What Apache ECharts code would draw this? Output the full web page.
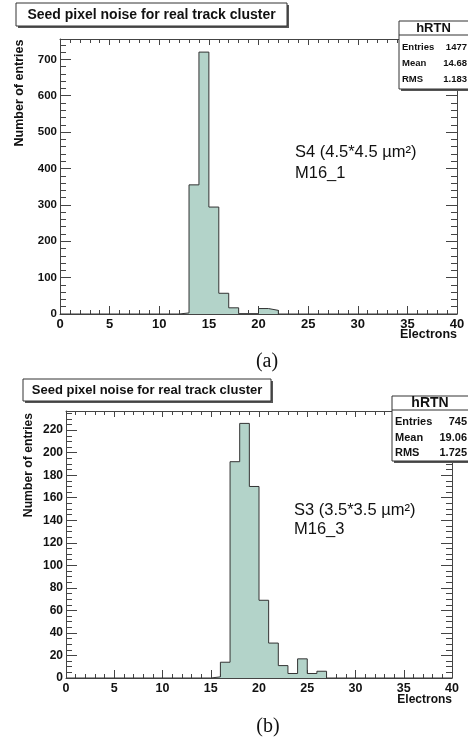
<!DOCTYPE html>
<html><head><meta charset="utf-8">
<script src="https://cdn.jsdelivr.net/npm/echarts@6/dist/echarts.min.js"></script>
<style>html,body{margin:0;padding:0;background:#fff}#c{width:468px;height:740px}</style>
</head><body><div id="c"></div>
<script>
// ---- data ----
const binLowA = [12, 13, 14, 15, 16, 17, 18, 19, 20, 21];
const countsA = [3, 355, 720, 294, 57, 17, 1, 1, 15, 10];
const binLowB = [15, 16, 17, 18, 19, 20, 21, 22, 23, 24, 25, 26];
const countsB = [1, 14, 192, 226, 170, 69, 31, 11, 4, 17, 4, 6];
const statLabels = ['Entries', 'Mean', 'RMS'];
const statValuesA = ['1477', '14.68', '1.183'];
const statValuesB = ['745', '19.06', '1.725'];
const titleText = 'Seed pixel noise for real track cluster';
const xTitle = 'Electrons';
const yTitle = 'Number of entries';
const noteA = ['S4 (4.5*4.5 µm²)', 'M16_1'];
const noteB = ['S3 (3.5*3.5 µm²)', 'M16_3'];

const FONT = '"Liberation Sans", Arial, Helvetica, sans-serif';
const SERIF = '"Liberation Serif", "Times New Roman", serif';
const AX = '#444';
const FILL = '#b3d3c9';

const chart = echarts.init(document.getElementById('c'), null, {renderer: 'canvas'});

function xAxes(grid, labelSize) {
  const base = {gridIndex: grid, type: 'value', min: 0, max: 40, interval: 5,
    splitLine: {show: false},
    axisLine: {show: true, onZero: false, lineStyle: {color: AX, width: 1}},
    minorTick: {show: true, splitNumber: 5, length: 4, lineStyle: {color: AX, width: 1}}};
  return [
    Object.assign({}, base, {position: 'bottom',
      axisTick: {inside: true, length: 8, lineStyle: {color: AX, width: 1}},
      axisLabel: {fontSize: labelSize, fontWeight: 'bold', color: '#111', margin: 4, fontFamily: FONT}}),
    Object.assign({}, base, {position: 'top',
      axisTick: {inside: true, length: 6, lineStyle: {color: AX, width: 1}},
      axisLabel: {show: false}})
  ];
}
function yAxes(grid, max, interval, minorInterval, labelSize) {
  const base = {gridIndex: grid, type: 'value', min: 0, max: max,
    splitLine: {show: false}};
  const main = (pos, lbl) => Object.assign({}, base, {position: pos, interval: interval,
    axisLine: {show: true, onZero: false, lineStyle: {color: AX, width: 1}},
    axisTick: {inside: true, length: 11, lineStyle: {color: AX, width: 1}},
    axisLabel: lbl ? {fontSize: labelSize, fontWeight: 'bold', color: '#111', margin: 3,
      fontFamily: FONT, showMaxLabel: false} : {show: false}});
  const minor = (pos) => Object.assign({}, base, {position: pos, interval: minorInterval,
    axisLine: {show: false, onZero: false},
    axisTick: {inside: true, length: 6, lineStyle: {color: AX, width: 1}},
    axisLabel: {show: false}});
  return [main('left', true), minor('left'), main('right', false), minor('right')];
}

function histSeries(xi, yi, lows, counts) {
  const pts = [];
  for (let b = 0; b < 40; b++) {
    const k = lows.indexOf(b);
    pts.push([b, k >= 0 ? counts[k] : 0]);
  }
  pts.push([40, 0]);
  return {type: 'line', xAxisIndex: xi, yAxisIndex: yi, z: 3, silent: true, step: 'end',
    symbol: 'none', data: pts, lineStyle: {color: '#333', width: 1},
    areaStyle: {color: FILL, opacity: 1}};
}

function titleBox(x, y, w, h, size) {
  return [
    {type: 'rect', shape: {x: x + 2, y: y + 2, width: w, height: h}, style: {fill: '#555'}, z: 10},
    {type: 'rect', shape: {x: x, y: y, width: w, height: h}, style: {fill: '#fff', stroke: '#333', lineWidth: 1}, z: 11},
    {type: 'text', x: x + w / 2, y: y + h / 2 + 0.5, z: 12,
      style: {text: titleText, font: 'bold ' + size + 'px ' + FONT, fill: '#111', align: 'center', verticalAlign: 'middle'}}
  ];
}
function statsBox(x, y, w, h, lineY, headY, rows, values, hSize, rSize, labX) {
  const els = [
    {type: 'rect', shape: {x: x + 2, y: y + 2, width: w, height: h}, style: {fill: '#555'}, z: 10},
    {type: 'rect', shape: {x: x, y: y, width: w, height: h}, style: {fill: '#fff', stroke: '#333', lineWidth: 1}, z: 11},
    {type: 'line', shape: {x1: x, y1: lineY, x2: 468, y2: lineY}, style: {stroke: '#333', lineWidth: 1}, z: 12},
    {type: 'text', x: (x + 468) / 2, y: headY, z: 12,
      style: {text: 'hRTN', font: 'bold ' + hSize + 'px ' + FONT, fill: '#111', align: 'center', verticalAlign: 'middle'}}
  ];
  statLabels.forEach((s, i) => {
    els.push({type: 'text', x: labX, y: rows[i], z: 12,
      style: {text: s, font: 'bold ' + rSize + 'px ' + FONT, fill: '#111', align: 'left', verticalAlign: 'middle'}});
    els.push({type: 'text', x: 467, y: rows[i], z: 12,
      style: {text: values[i], font: 'bold ' + rSize + 'px ' + FONT, fill: '#111', align: 'right', verticalAlign: 'middle'}});
  });
  return els;
}
function txt(x, y, s, font, align, rot) {
  return {type: 'text', x: x, y: y, rotation: rot || 0, z: 12,
    style: {text: s, font: font, fill: '#111', align: align || 'left', verticalAlign: 'middle'}};
}

const graphics = [].concat(
  titleBox(16, 3, 271, 23, 14),
  statsBox(399, 21, 80, 68, 35, 28, [47, 63, 79], statValuesA, 13, 9.5, 402),
  titleBox(23, 379, 248, 22, 13),
  statsBox(392, 396, 80, 65, 410, 403, [422, 438, 453], statValuesB, 14, 11, 395),
  [
    txt(20, 93, yTitle, 'bold 12.5px ' + FONT, 'center', Math.PI / 2),
    txt(29, 465, yTitle, 'bold 12.2px ' + FONT, 'center', Math.PI / 2),
    txt(457, 335, xTitle, 'bold 12.5px ' + FONT, 'right'),
    txt(452, 700, xTitle, 'bold 12px ' + FONT, 'right'),
    txt(295, 152, noteA[0], '16.5px ' + FONT, 'left'),
    txt(295, 173, noteA[1], '16.5px ' + FONT, 'left'),
    txt(294, 510, noteB[0], '16.5px ' + FONT, 'left'),
    txt(294, 529, noteB[1], '16.5px ' + FONT, 'left'),
    txt(267, 362, '(a)', '20px ' + SERIF, 'center'),
    txt(268, 727, '(b)', '20px ' + SERIF, 'center')
  ]
);

chart.setOption({
  animation: false,
  backgroundColor: '#fff',
  grid: [
    {left: 60, top: 39, width: 397, height: 275, containLabel: false},
    {left: 66, top: 411, width: 386, height: 267, containLabel: false}
  ],
  xAxis: [].concat(xAxes(0, 13), xAxes(1, 12.5)),
  yAxis: [].concat(yAxes(0, 756, 100, 20, 11.5), yAxes(1, 237, 20, 5, 12)),
  series: [
    histSeries(0, 0, binLowA, countsA),
    histSeries(2, 4, binLowB, countsB)
  ],
  graphic: graphics
});
</script>
</body></html>
